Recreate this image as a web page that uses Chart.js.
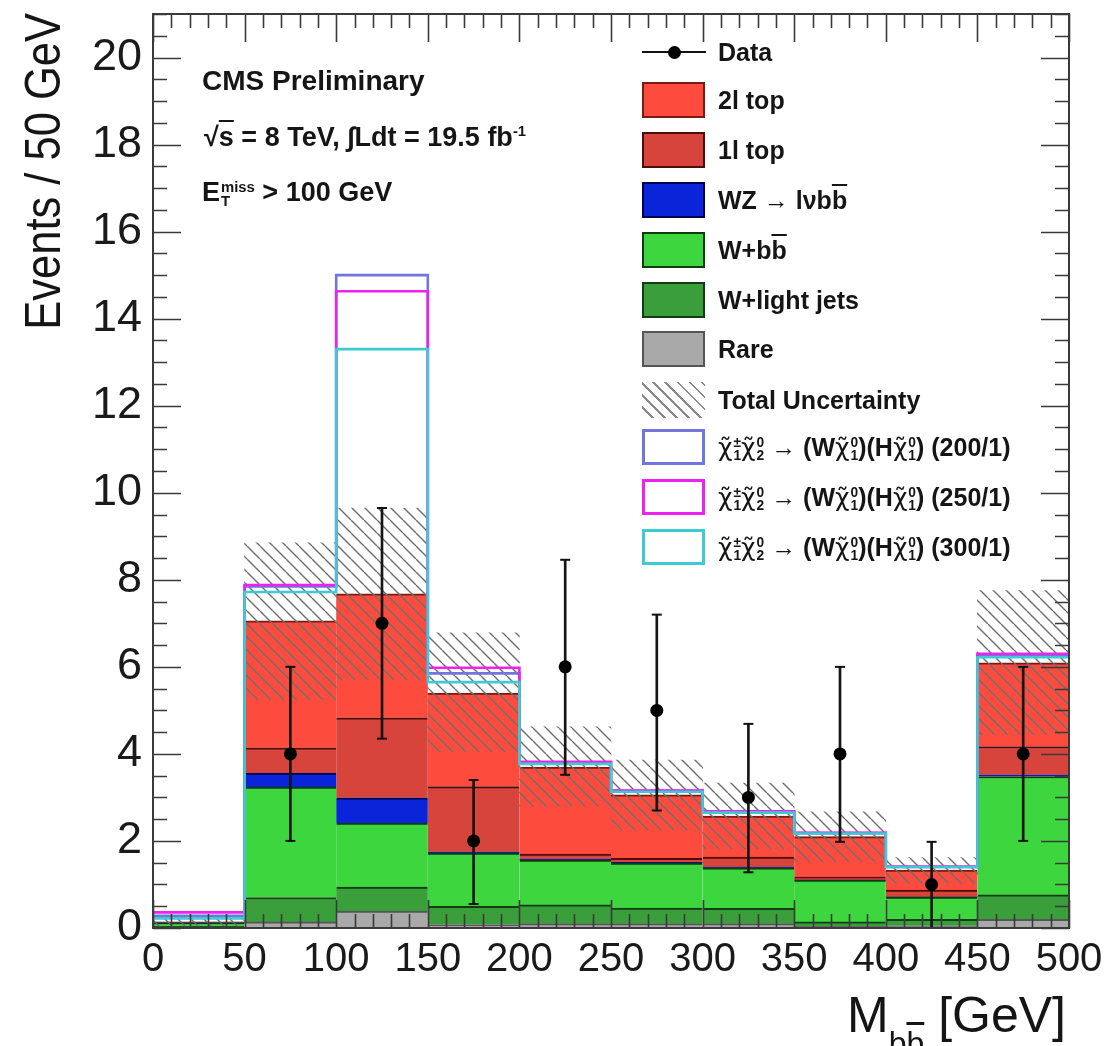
<!DOCTYPE html>
<html>
<head>
<meta charset="utf-8">
<script src="https://cdn.jsdelivr.net/npm/chart.js@4.4.1/dist/chart.umd.min.js"></script>
<style>
  body { margin: 0; background: #fff; font-family: "Liberation Sans", Arial, sans-serif; }
  #wrap { position: relative; width: 1106px; height: 1046px; overflow: hidden; }
  #wrap canvas { position: absolute; left: 0; top: 0; }
  .t { position: absolute; white-space: nowrap; color: #151515; line-height: 1; }
  .b { font-weight: bold; }
  .ov { text-decoration: overline; }
  .ud { display: inline-flex; flex-direction: column; font-size: 0.55em; line-height: 0.95; vertical-align: middle; margin-left: 1px; text-align: left; }
  .chi { font-family: "DejaVu Sans", sans-serif; font-weight: normal; }
  .box { position: absolute; box-sizing: border-box; width: 63px; height: 36px; border: 2px solid #333; }
  .hatch { background: repeating-linear-gradient(45deg, #fff 0 7px, #8a8a8a 7px 8.5px); border: none; }
</style>
</head>
<body>
<div id="wrap">
  <canvas id="c" width="1106" height="1046"></canvas>
</div>
<script>
// histogram binning (GeV)
const binEdges = [0, 50, 100, 150, 200, 250, 300, 350, 400, 450, 500];
const binCenters = [25, 75, 125, 175, 225, 275, 325, 375, 425, 475];

// stacked backgrounds, bottom to top
const rare   = [0.00, 0.14, 0.39, 0.08, 0.10, 0.10, 0.10, 0.04, 0.05, 0.20];
const wLight = [0.04, 0.56, 0.55, 0.42, 0.43, 0.36, 0.35, 0.10, 0.15, 0.56];
const wBB    = [0.08, 2.54, 1.47, 1.22, 1.03, 1.03, 0.93, 0.96, 0.51, 2.72];
const wz     = [0.00, 0.32, 0.58, 0.03, 0.02, 0.02, 0.02, 0.00, 0.00, 0.04];
const top1l  = [0.01, 0.58, 1.84, 1.50, 0.12, 0.09, 0.23, 0.07, 0.16, 0.65];
const top2l  = [0.01, 2.92, 2.85, 2.15, 2.00, 1.46, 0.94, 0.93, 0.46, 1.92];

// total uncertainty band edges
const uncLo = [0.05, 5.25, 5.70, 4.05, 2.80, 2.26, 1.82, 1.53, 1.03, 4.45];
const uncHi = [0.20, 8.85, 9.65, 6.78, 4.62, 3.86, 3.33, 2.67, 1.62, 7.75];

// signal (stacked on background) outlines
const sig200 = [0.28, 7.85, 15.00, 5.85, 3.80, 3.15, 2.67, 2.18, 1.40, 6.25];
const sig250 = [0.36, 7.88, 14.63, 5.98, 3.82, 3.16, 2.68, 2.19, 1.41, 6.30];
const sig300 = [0.22, 7.72, 13.30, 5.65, 3.77, 3.13, 2.65, 2.17, 1.40, 6.22];

// data
const dataX  = [75, 125, 175, 225, 275, 325, 375, 425, 475];
const dataY  = [4, 7, 2, 6, 5, 3, 4, 1, 4];
const dataLo = [2.00, 4.35, 0.55, 3.52, 2.70, 1.28, 1.98, 0.00, 2.00];
const dataHi = [6.00, 9.65, 3.40, 8.46, 7.20, 4.69, 6.00, 1.98, 6.00];

const xMajor = 50, xMinor = 10, yMajor = 2, yMinor = 0.5;

Chart.defaults.font.family = '"Liberation Sans", Arial, sans-serif';
Chart.defaults.color = '#1a1a1a';

function hatchPattern(ctx) {
    const s = 13;
    const c = document.createElement('canvas');
    c.width = s; c.height = s;
    const g = c.getContext('2d');
    g.strokeStyle = '#6e6e6e';
    g.lineWidth = 1.4;
    g.beginPath();
    [-1, 0, 1].forEach(function (k) { g.moveTo(k * s, 0); g.lineTo(k * s + s, s); });
    g.stroke();
    return ctx.createPattern(c, 'repeat');
}

function stepPoints(vals) {
    const pts = vals.map((v, i) => ({ x: binEdges[i], y: v }));
    pts.push({ x: binEdges[binEdges.length - 1], y: vals[vals.length - 1] });
    return pts;
}

const stackSeries = [
    { label: 'Rare',          values: rare,   fill: '#a9a9a9', edge: '#555555' },
    { label: 'W+light jets',  values: wLight, fill: '#3a9f3a', edge: '#123d12' },
    { label: 'W+bb',          values: wBB,    fill: '#3dd63e', edge: '#0b3d0b' },
    { label: 'WZ',            values: wz,     fill: '#0a24d9', edge: '#000050' },
    { label: '1l top',        values: top1l,  fill: '#d6443c', edge: '#4f0c09' },
    { label: '2l top',        values: top2l,  fill: '#fd4b3e', edge: '#7a1a12' }
];

const signals = [
    { label: '300/1', values: sig300, color: '#3ccbd2', order: 2 },
    { label: '250/1', values: sig250, color: '#ee22ee', order: 3 },
    { label: '200/1', values: sig200, color: '#7276dc', order: 4 }
];

// inward ROOT-style ticks and the frame
const frameTicks = {
    id: 'frameTicks',
    afterDraw(chart) {
        const { ctx, chartArea: a, scales } = chart;
        const x = scales.x, y = scales.y;
        ctx.save();
        ctx.strokeStyle = '#3a3a3a';
        ctx.lineWidth = 1.6;
        ctx.beginPath();
        for (let v = 0; v <= y.max + 1e-6; v += yMinor) {
            const py = Math.round(y.getPixelForValue(v)) + 0.5;
            const len = Math.abs(v / yMajor - Math.round(v / yMajor)) < 1e-6 ? 28 : 14;
            ctx.moveTo(a.left, py); ctx.lineTo(a.left + len, py);
            ctx.moveTo(a.right, py); ctx.lineTo(a.right - len, py);
        }
        for (let v = 0; v <= x.max + 1e-6; v += xMinor) {
            const px = Math.round(x.getPixelForValue(v)) + 0.5;
            const len = v % xMajor === 0 ? 28 : 14;
            ctx.moveTo(px, a.bottom); ctx.lineTo(px, a.bottom - len);
            ctx.moveTo(px, a.top); ctx.lineTo(px, a.top + len);
        }
        ctx.stroke();
        ctx.lineWidth = 2;
        ctx.strokeRect(a.left, a.top, a.right - a.left, a.bottom - a.top);
        ctx.restore();
    }
};

const canvas = document.getElementById('c');
const ctx2d = canvas.getContext('2d');

const datasets = [];
datasets.push({
    type: 'line', label: 'Data', yAxisID: 'y2', order: 0, showLine: false,
    data: dataX.map((x, i) => ({ x: x, y: dataY[i] })),
    pointRadius: 6.5, pointBackgroundColor: '#000', pointBorderColor: '#000', pointBorderWidth: 0
});
datasets.push({
    type: 'line', label: 'capLo', yAxisID: 'y2', order: 0, showLine: false,
    data: dataX.map((x, i) => ({ x: x, y: dataLo[i] })),
    pointStyle: 'line', pointRadius: 5, pointBorderColor: '#111', pointBorderWidth: 2
});
datasets.push({
    type: 'line', label: 'capHi', yAxisID: 'y2', order: 0, showLine: false,
    data: dataX.map((x, i) => ({ x: x, y: dataHi[i] })),
    pointStyle: 'line', pointRadius: 5, pointBorderColor: '#111', pointBorderWidth: 2
});
datasets.push({
    type: 'bar', label: 'errors', yAxisID: 'y2', order: 1, grouped: false,
    data: dataX.map((x, i) => ({ x: x, y: [dataLo[i], dataHi[i]] })),
    backgroundColor: '#151515', barThickness: 2, borderWidth: 0
});
signals.forEach(function (s) {
    datasets.push({
        type: 'line', label: s.label, yAxisID: 'y2', order: s.order,
        data: stepPoints(s.values), stepped: 'before', fill: false,
        borderColor: s.color, borderWidth: 2.6, pointRadius: 0
    });
});
datasets.push({
    type: 'bar', label: 'Total Uncertainty', yAxisID: 'y2', order: 5, grouped: false,
    data: binCenters.map((x, i) => ({ x: x, y: [uncLo[i], uncHi[i]] })),
    backgroundColor: hatchPattern(ctx2d), borderWidth: 0,
    categoryPercentage: 1, barPercentage: 1
});
stackSeries.forEach(function (s) {
    datasets.push({
        type: 'bar', label: s.label, yAxisID: 'y', order: 10, stack: 'bkg',
        data: binCenters.map((x, i) => ({ x: x, y: s.values[i] })),
        backgroundColor: s.fill, borderColor: s.edge,
        borderWidth: { top: 2, right: 0, bottom: 0, left: 0 },
        borderSkipped: 'start', categoryPercentage: 1, barPercentage: 1
    });
});

new Chart(ctx2d, {
    type: 'bar',
    data: { datasets: datasets },
    options: {
        responsive: false,
        animation: false,
        layout: { padding: { top: 14, right: 37, left: 0, bottom: 0 } },
        plugins: { legend: { display: false }, tooltip: { enabled: false } },
        scales: {
            x: {
                type: 'linear', min: binEdges[0], max: binEdges[binEdges.length - 1],
                offset: false, stacked: true,
                grid: { display: false, drawTicks: false, offset: false },
                border: { display: false },
                ticks: { stepSize: xMajor, padding: 8, maxRotation: 0, autoSkip: false, font: { size: 40 } },
                afterFit: function (s) { s.height = 118; s.paddingLeft = 0; s.paddingRight = 0; }
            },
            y: {
                type: 'linear', min: 0, max: 21, stacked: true,
                grid: { display: false, drawTicks: false },
                border: { display: false },
                ticks: { stepSize: yMajor, includeBounds: false, padding: 11, font: { size: 45 } },
                afterFit: function (s) { s.width = 153; s.paddingTop = 0; s.paddingBottom = 0; }
            },
            y2: { type: 'linear', display: false, min: 0, max: 21, stacked: false }
        }
    },
    plugins: [frameTicks]
});

// text overlays: annotations, legend, axis titles
function chi(sup, sub) {
    return '<span class="chi">\u03C7\u0303</span><span class="ud"><span>' + sup + '</span><span>' + sub + '</span></span>';
}
function sigLabel(mass) {
    return chi('\u00B1', '1') + chi('0', '2') + ' \u2192 (W' + chi('0', '1') + ')(H' + chi('0', '1') + ') (' + mass + ')';
}

const legendRows = [
    { y: 100, text: '2l top',   fill: '#fd4b3e', edge: '#7a1a12' },
    { y: 150, text: '1l top',   fill: '#d6443c', edge: '#4f0c09' },
    { y: 200, text: 'WZ \u2192 l\u03BDb<span class="ov">b</span>', fill: '#0a24d9', edge: '#000050' },
    { y: 250, text: 'W+b<span class="ov">b</span>', fill: '#3dd63e', edge: '#0b3d0b' },
    { y: 300, text: 'W+light jets', fill: '#3a9f3a', edge: '#123d12' },
    { y: 349, text: 'Rare',     fill: '#a9a9a9', edge: '#555555' },
    { y: 400, text: 'Total Uncertainty', hatch: true },
    { y: 447, text: sigLabel('200/1'), fill: '#fff', edge: '#7276dc' },
    { y: 497, text: sigLabel('250/1'), fill: '#fff', edge: '#ee22ee' },
    { y: 547, text: sigLabel('300/1'), fill: '#fff', edge: '#3ccbd2' }
];

const wrap = document.getElementById('wrap');
let html = '';
html += '<div class="t b" style="left:202px;top:67px;font-size:28px">CMS Preliminary</div>';
html += '<div class="t b" style="left:204px;top:124px;font-size:27px">\u221A<span class="ov">s</span> = 8 TeV, \u222BLdt = 19.5 fb<sup style="font-size:0.55em">-1</sup></div>';
html += '<div class="t b" style="left:202px;top:179px;font-size:27px">E<span class="ud"><span>miss</span><span>T</span></span> &gt; 100 GeV</div>';

// data legend marker
html += '<div style="position:absolute;left:642px;top:51px;width:64px;height:2px;background:#111"></div>';
html += '<div style="position:absolute;left:668px;top:46px;width:13px;height:13px;border-radius:50%;background:#000"></div>';
html += '<div class="t b" style="left:718px;top:' + (52 - 12) + 'px;font-size:25px">Data</div>';
legendRows.forEach(function (r) {
    if (r.hatch) {
        html += '<div class="box hatch" style="left:642px;top:' + (r.y - 18) + 'px"></div>';
    } else {
        const bw = r.fill === '#fff' ? 3 : 2;
        html += '<div class="box" style="left:642px;top:' + (r.y - 18) + 'px;background:' + r.fill + ';border:' + bw + 'px solid ' + r.edge + '"></div>';
    }
    html += '<div class="t b" style="left:718px;top:' + (r.y - 12) + 'px;font-size:25px">' + r.text + '</div>';
});

// axis titles
html += '<div class="t" style="left:0;top:0;width:400px;text-align:right;font-size:50px;transform-origin:0 0;transform:translate(18px,361px) rotate(-90deg) scaleX(0.87)">Events / 50 GeV</div>';
html += '<div class="t" style="left:847px;top:990px;font-size:50px">M<span style="font-size:32px;position:relative;top:22px">b<span class="ov">b</span></span> [GeV]</div>';
wrap.insertAdjacentHTML('beforeend', html);
</script>
</body>
</html>
